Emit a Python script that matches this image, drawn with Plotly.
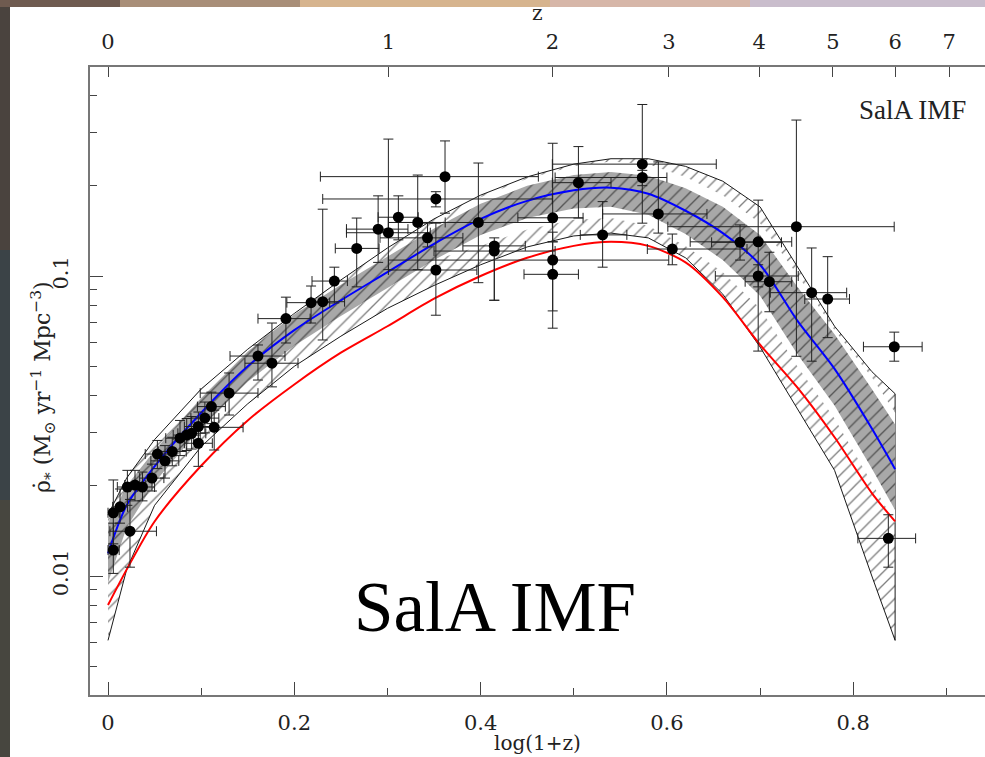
import numpy as np
import plotly.graph_objects as go

# ---------------- data ----------------
# model curves on a common log(1+z) grid
xg = [0, 0.02, 0.05, 0.1, 0.15, 0.2, 0.25, 0.3, 0.35, 0.4, 0.45, 0.5, 0.54, 0.58, 0.62, 0.66, 0.7, 0.74, 0.78, 0.82, 0.845]
blue = [0.0119, 0.0172, 0.0232, 0.0350, 0.0500, 0.066, 0.083, 0.103, 0.128, 0.155, 0.178, 0.193, 0.197, 0.188, 0.165, 0.139, 0.109, 0.071, 0.049, 0.031, 0.0227]
red = [0.0080, 0.0105, 0.0152, 0.0233, 0.0330, 0.0435, 0.0555, 0.068, 0.084, 0.100, 0.115, 0.126, 0.130, 0.126, 0.111, 0.085, 0.059, 0.0425, 0.029, 0.0189, 0.0152]
hatch_hi = [0.0160, 0.0212, 0.0285, 0.0420, 0.057, 0.075, 0.097, 0.124, 0.155, 0.186, 0.214, 0.236, 0.246, 0.246, 0.232, 0.207, 0.170, 0.107, 0.068, 0.048, 0.0405]
hatch_lo = [0.0061, 0.0105, 0.0172, 0.0270, 0.0375, 0.050, 0.063, 0.078, 0.093, 0.109, 0.125, 0.136, 0.139, 0.134, 0.115, 0.087, 0.058, 0.036, 0.0225, 0.0100, 0.0061]
gray_hi = [0.0150, 0.0200, 0.0262, 0.0392, 0.0560, 0.0745, 0.0935, 0.116, 0.144, 0.174, 0.200, 0.217, 0.222, 0.216, 0.196, 0.170, 0.137, 0.092, 0.064, 0.042, 0.0320]
gray_lo = [0.0095, 0.0145, 0.0205, 0.0312, 0.0445, 0.0585, 0.0735, 0.091, 0.113, 0.137, 0.156, 0.168, 0.170, 0.160, 0.138, 0.113, 0.086, 0.055, 0.037, 0.0228, 0.0166]
white_hi = [0.0150, 0.0200, 0.0262, 0.0392, 0.0560, 0.0745, 0.0935, 0.116, 0.144, 0.183, 0.211, 0.232, 0.241, 0.236, 0.214, 0.186, 0.150, 0.101, 0.066, 0.046, 0.035]
white_lo = [0.0095, 0.0145, 0.0205, 0.0312, 0.0445, 0.0585, 0.0735, 0.091, 0.113, 0.126, 0.143, 0.154, 0.156, 0.147, 0.126, 0.103, 0.078, 0.050, 0.0335, 0.0205, 0.0150]

# observational points: value and error-bar ends
pt_x = [0.0057, 0.0057, 0.0129, 0.0236, 0.0208, 0.029, 0.037, 0.0472, 0.053, 0.0612, 0.069, 0.0773, 0.0845, 0.0898,
        0.097, 0.097, 0.104, 0.111, 0.114, 0.130, 0.161, 0.176, 0.191, 0.218, 0.2305, 0.243, 0.267, 0.290, 0.301,
        0.3117, 0.3325, 0.343, 0.352, 0.352, 0.3618, 0.3976, 0.4147, 0.4147, 0.4774, 0.4774, 0.4774, 0.505, 0.531,
        0.5736, 0.5736, 0.5908, 0.6058, 0.6785, 0.698, 0.739, 0.698, 0.71, 0.7554, 0.7726, 0.8441, 0.8377]
pt_y = [0.0122, 0.01625, 0.0170, 0.0141, 0.0198, 0.0201, 0.0198, 0.0212, 0.0255, 0.0242, 0.0260, 0.0288, 0.0295, 0.0299,
        0.0277, 0.0315, 0.0336, 0.0367, 0.0313, 0.0407, 0.0541, 0.0512, 0.0721, 0.0815, 0.0821, 0.0962, 0.1236, 0.1433, 0.1394,
        0.157, 0.1508, 0.134, 0.1047, 0.1806, 0.2144, 0.1508, 0.126, 0.1211, 0.1563, 0.113, 0.1013, 0.2047, 0.1371,
        0.236, 0.213, 0.161, 0.123, 0.1295, 0.130, 0.146, 0.100, 0.0957, 0.088, 0.0838, 0.0581, 0.01335]
pt_ylo = [0.0102, 0.0128, 0.0150, 0.0107, 0.0172, 0.0178, 0.0178, 0.0192, 0.0228, 0.0212, 0.0233, 0.0252, 0.0262, 0.0265,
          0.0232, 0.0282, 0.0300, 0.0322, 0.0263, 0.0344, 0.0450, 0.0427, 0.0598, 0.0697, 0.0612, 0.0813, 0.092, 0.111, 0.105,
          0.132, 0.105, 0.125, 0.074, 0.170, 0.162, 0.095, 0.083, 0.083, 0.130, 0.0765, 0.067, 0.156, 0.107,
          0.150, 0.200, 0.139, 0.109, 0.113, 0.0562, 0.054, 0.092, 0.076, 0.052, 0.0623, 0.052, 0.0107]
pt_yhi = [0.0150, 0.0209, 0.0195, 0.0180, 0.0225, 0.0225, 0.0222, 0.0236, 0.0283, 0.0272, 0.0290, 0.0330, 0.0335, 0.0340,
          0.0320, 0.0352, 0.0380, 0.0410, 0.0357, 0.0475, 0.0589, 0.0697, 0.0850, 0.0926, 0.167, 0.107, 0.156, 0.185, 0.286,
          0.185, 0.217, 0.150, 0.150, 0.191, 0.282, 0.238, 0.134, 0.128, 0.277, 0.140, 0.130, 0.270, 0.177,
          0.373, 0.225, 0.240, 0.138, 0.148, 0.179, 0.331, 0.109, 0.120, 0.124, 0.116, 0.065, 0.0160]
pt_xlo = [0.000, 0.000, 0.005, 0.002, 0.010, 0.018, 0.024, 0.034, 0.040, 0.046, 0.054, 0.062, 0.070, 0.075,
          0.082, 0.082, 0.089, 0.096, 0.093, 0.099, 0.131, 0.147, 0.161, 0.192, 0.218, 0.219, 0.244, 0.256, 0.256,
          0.290, 0.301, 0.292, 0.301, 0.2305, 0.228, 0.301, 0.381, 0.350, 0.440, 0.301, 0.4466, 0.477, 0.507,
          0.477, 0.480, 0.531, 0.579, 0.648, 0.625, 0.601, 0.652, 0.684, 0.711, 0.748, 0.811, 0.805]
pt_xhi = [0.012, 0.012, 0.021, 0.052, 0.032, 0.040, 0.050, 0.060, 0.068, 0.076, 0.084, 0.092, 0.099, 0.105,
          0.112, 0.112, 0.119, 0.126, 0.145, 0.161, 0.190, 0.204, 0.217, 0.238, 0.254, 0.257, 0.291, 0.322, 0.346,
          0.333, 0.362, 0.381, 0.396, 0.477, 0.462, 0.477, 0.448, 0.480, 0.510, 0.602, 0.505, 0.540, 0.557,
          0.653, 0.600, 0.643, 0.686, 0.723, 0.734, 0.844, 0.741, 0.734, 0.793, 0.796, 0.874, 0.867]

# axis ticks
x_major = [0, 0.2, 0.4, 0.6, 0.8]
x_minor = [0.1, 0.3, 0.5, 0.7, 0.9]
y_major = [0.01, 0.1]
y_minor = [0.005, 0.006, 0.007, 0.008, 0.009, 0.02, 0.03, 0.04, 0.05, 0.06, 0.07, 0.08, 0.09, 0.2, 0.3, 0.4]
z_ticks = [0, 1, 2, 3, 4, 5, 6, 7]

# ---------------- figure ----------------
W, H = 985, 757
L, R, T, B = 90, 985, 67, 695  # plot area in px
XR = [(L - 108) / 931.5, (R - 108) / 931.5]
YR = [-1 - (B - 276) / 300, -1 + (276 - T) / 300]

def px(X):
    return (X - L) / (R - L)

def py(Y):
    return (B - Y) / (B - T)

fig = go.Figure()

# hatched outer band (closed polygon)
fig.add_trace(go.Scatter(
    x=xg + xg[::-1], y=hatch_hi + hatch_lo[::-1], mode="lines", fill="toself",
    fillcolor="white", line=dict(color="black", width=0.9),
    fillpattern=dict(shape="/", fgcolor="black", bgcolor="white", size=9, solidity=0.15),
    hoverinfo="skip", showlegend=False))
# white strip
fig.add_trace(go.Scatter(
    x=xg + xg[::-1], y=white_hi + white_lo[::-1], mode="lines", fill="toself",
    fillcolor="white", line=dict(width=0), hoverinfo="skip", showlegend=False))
# grey band with hatch
fig.add_trace(go.Scatter(
    x=xg + xg[::-1], y=gray_hi + gray_lo[::-1], mode="lines", fill="toself",
    fillcolor="#a8a8a8", line=dict(width=0),
    fillpattern=dict(shape="/", fgcolor="black", bgcolor="#a8a8a8", size=9, solidity=0.15),
    hoverinfo="skip", showlegend=False))

# curves
fig.add_trace(go.Scatter(x=xg, y=red, mode="lines", line=dict(color="#ff0000", width=2, shape="spline", smoothing=0.8),
                         showlegend=False))
fig.add_trace(go.Scatter(x=xg, y=blue, mode="lines", line=dict(color="#0000ff", width=2, shape="spline", smoothing=0.8),
                         showlegend=False))

# data points
ex_p = [b - a for a, b in zip(pt_x, pt_xhi)]
ex_m = [a - b for a, b in zip(pt_x, pt_xlo)]
ey_p = [b - a for a, b in zip(pt_y, pt_yhi)]
ey_m = [a - b for a, b in zip(pt_y, pt_ylo)]
fig.add_trace(go.Scatter(
    x=pt_x, y=pt_y, mode="markers",
    marker=dict(color="black", size=11),
    error_x=dict(type="data", array=ex_p, arrayminus=ex_m, color="#222222", thickness=1, width=5),
    error_y=dict(type="data", array=ey_p, arrayminus=ey_m, color="#222222", thickness=1, width=5),
    showlegend=False))

# dummy trace for top axis
fig.add_trace(go.Scatter(x=[XR[0]], y=[0.05], xaxis="x2", mode="markers", marker=dict(opacity=0),
                         hoverinfo="skip", showlegend=False))

tickfont = dict(family="DejaVu Serif", size=21, color="#222222")
fig.update_layout(
    width=W, height=H,
    margin=dict(l=L, r=W - R, t=T, b=H - B),
    paper_bgcolor="white", plot_bgcolor="white",
    xaxis=dict(range=XR, showgrid=False, zeroline=False, showline=True, linecolor="#777777", linewidth=2,
               ticks="inside", tickvals=x_major, ticktext=["0", "0.2", "0.4", "0.6", "0.8"], ticklen=13,
               tickcolor="#444444", tickwidth=1, tickfont=tickfont, ticklabelstandoff=8,
               minor=dict(tickvals=x_minor, ticks="inside", ticklen=7, tickcolor="#444444", tickwidth=1)),
    xaxis2=dict(range=XR, overlaying="x", side="top", showgrid=False, zeroline=False, showline=True,
                linecolor="#777777", linewidth=2, ticks="inside", ticklen=10, tickcolor="#444444",
                tickvals=[float(np.log10(1 + z)) for z in z_ticks], ticktext=[str(z) for z in z_ticks],
                tickfont=tickfont, ticklabelstandoff=8),
    yaxis=dict(type="log", range=YR, showgrid=False, zeroline=False, showline=True, linecolor="#777777",
               linewidth=2, ticks="inside", tickvals=y_major, ticktext=["0.01", "0.1"], ticklen=13,
               tickcolor="#444444", tickangle=-90, tickfont=tickfont, ticklabelstandoff=12,
               minor=dict(tickvals=y_minor, ticks="inside", ticklen=7, tickcolor="#444444", tickwidth=1)),
    font=dict(family="DejaVu Serif", color="#222222"),
)

ann = [
    dict(text="z", x=0.5, y=py(13), font=dict(family="DejaVu Serif", size=20, color="#222222")),
    dict(text="log(1+z)", x=0.5, y=py(743), font=dict(family="DejaVu Serif", size=20, color="#222222")),
    dict(text="\u03c1\u0307<sub>*</sub> (M<sub>\u2299</sub> yr<sup>\u22121</sup> Mpc<sup>\u22123</sup>)",
         x=px(43), y=py(387), textangle=-90, font=dict(family="DejaVu Serif", size=22, color="#222222")),
    dict(text="SalA IMF", x=px(495), y=py(607), font=dict(family="Liberation Serif", size=71, color="black")),
    dict(text="SalA IMF", x=px(912), y=py(110), font=dict(family="Liberation Serif", size=27, color="#222222")),
]
for a in ann:
    a.update(xref="paper", yref="paper", showarrow=False, xanchor="center", yanchor="middle")
fig.update_layout(annotations=ann)

# slide background strips around the white page
shapes = []
left_cols = [(0, 250, "#4a433e"), (250, 500, "#3b4347"), (500, 757, "#47463f")]
for y0, y1, c in left_cols:
    shapes.append(dict(type="rect", xref="paper", yref="paper", x0=px(0), x1=px(10), y0=py(y1), y1=py(y0),
                       fillcolor=c, line=dict(width=0), layer="above"))
top_cols = [(0, 120, "#6f5b50"), (120, 300, "#a88e78"), (300, 550, "#d6b48e"), (550, 750, "#d6b6a8"), (750, 985, "#c9bdcc")]
for x0, x1, c in top_cols:
    shapes.append(dict(type="rect", xref="paper", yref="paper", x0=px(x0), x1=px(x1), y0=py(7), y1=py(0),
                       fillcolor=c, line=dict(width=0), layer="above"))
fig.update_layout(shapes=shapes)

fig.write_html("out.html")
